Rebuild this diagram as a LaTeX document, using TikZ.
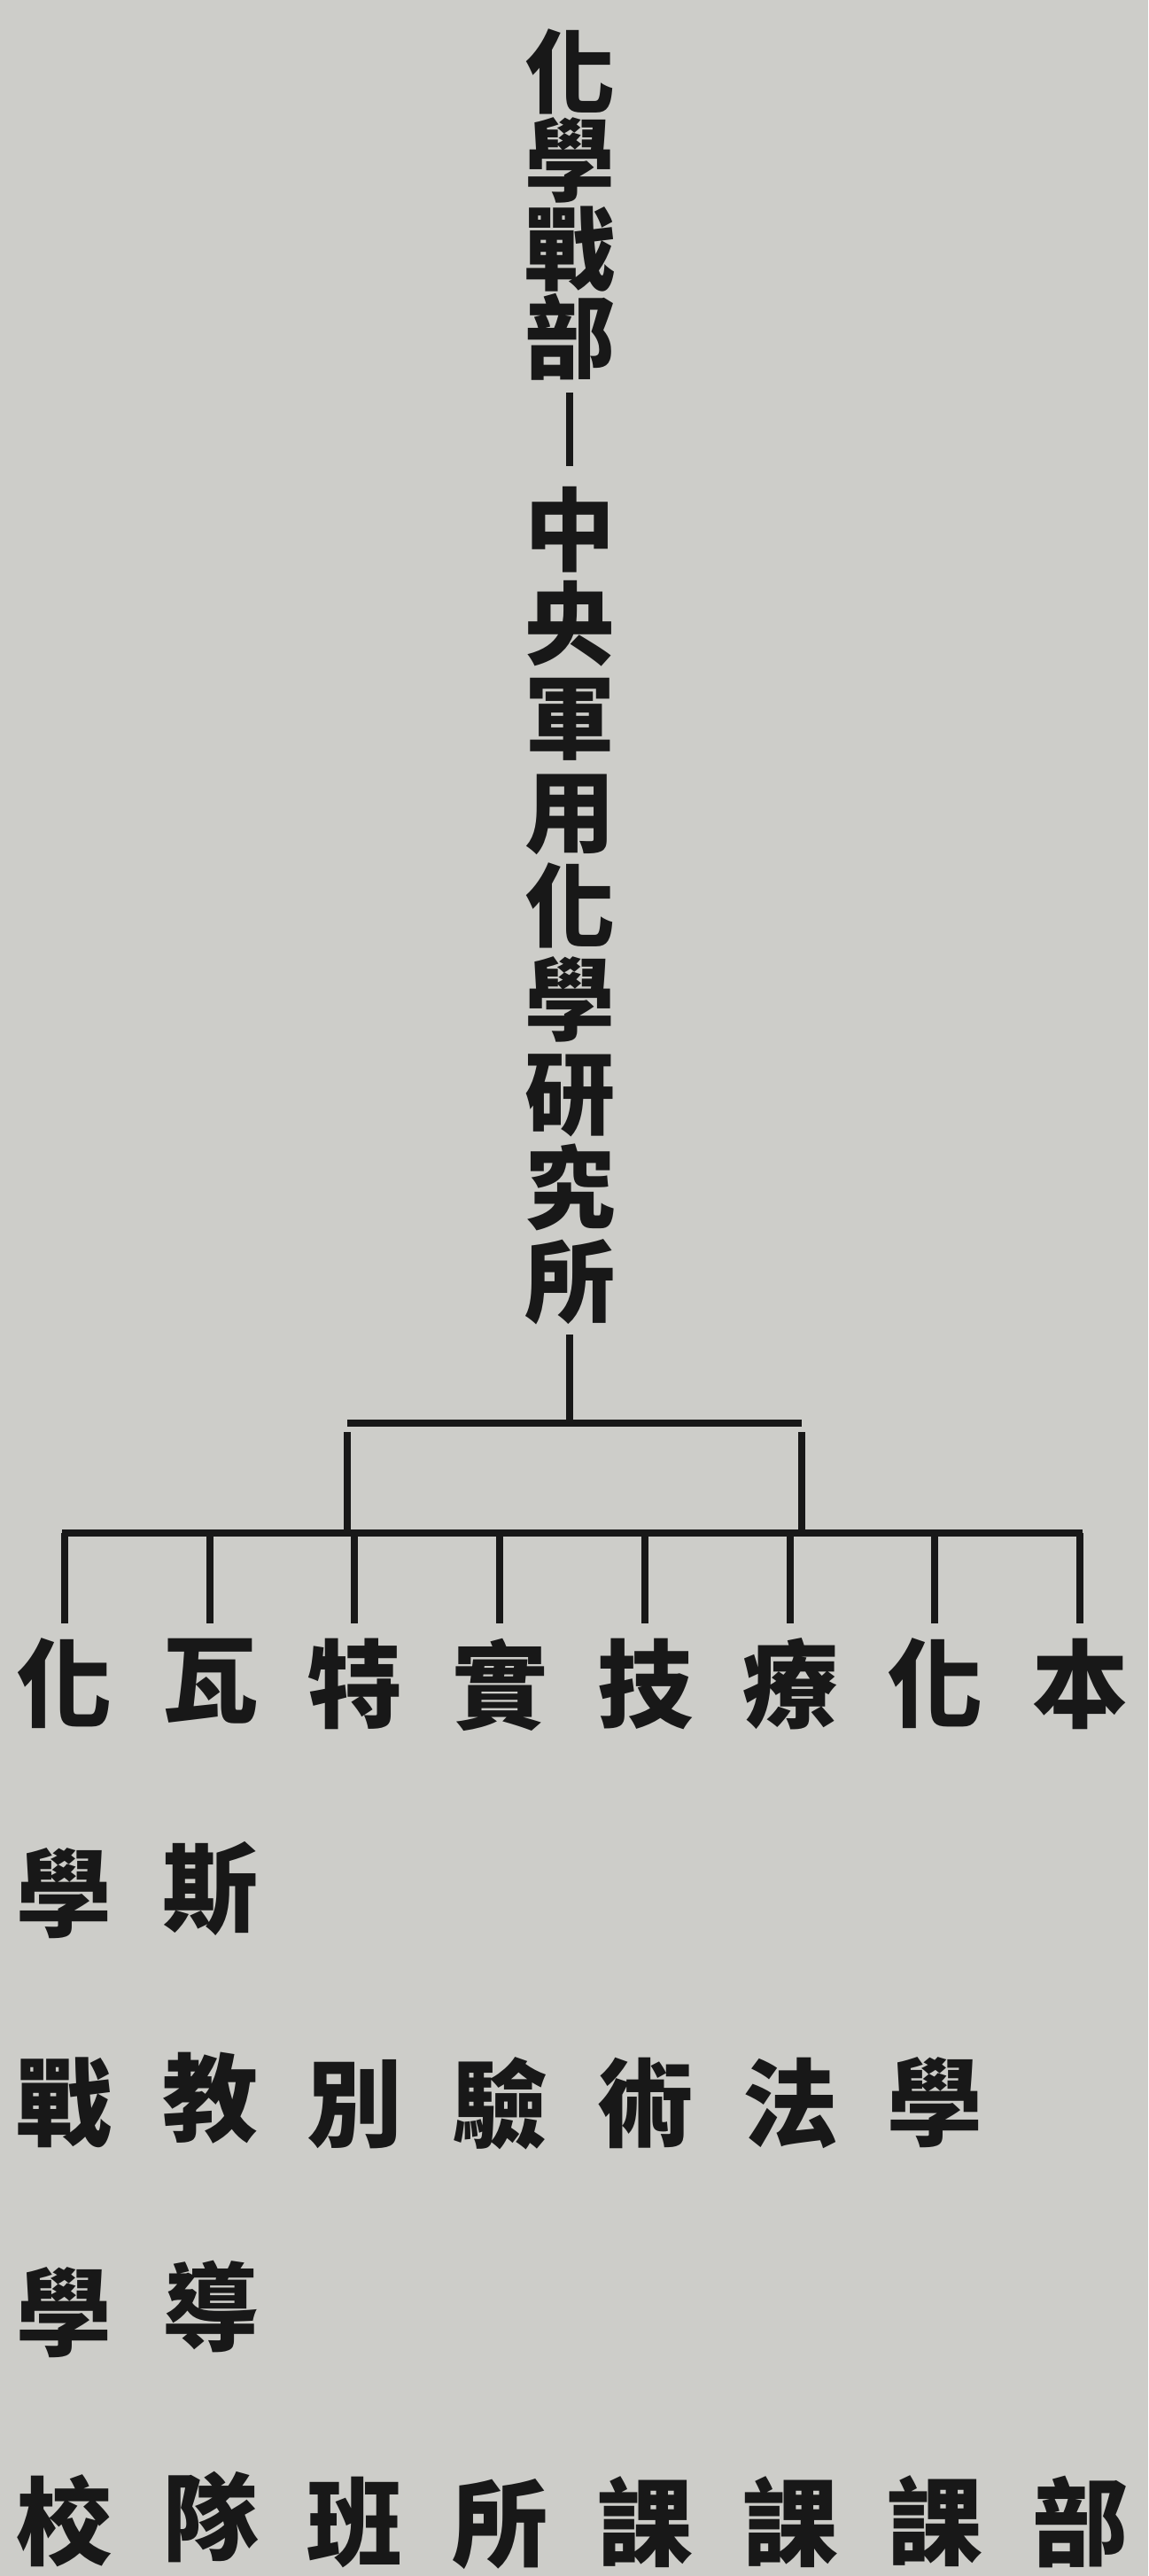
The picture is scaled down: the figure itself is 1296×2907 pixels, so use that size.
\documentclass[tikz,border=0pt]{standalone}
\usepackage{fontspec}
\newfontfamily\cjk{Noto Sans CJK TC}
\definecolor{paper}{RGB}{205,205,201}
\definecolor{ink}{RGB}{24,24,24}

\tikzset{every picture/.style={line width=7.5pt}}

\begin{document}
\begin{tikzpicture}[x=1pt,y=1pt,yscale=-1,xscale=1,
  title/.style={anchor=north,inner sep=0pt,align=center,text=ink,font=\cjk\bfseries\fontsize{102}{100}\selectfont},
  unit/.style={anchor=north,inner sep=0pt,align=center,text=ink,font=\cjk\bfseries\fontsize{108}{236.5}\selectfont},
  link/.style={draw=ink,line cap=butt}]
%set diagram size 1296 x 2907
\fill[paper] (0,0) rectangle (1296,2907);

% Text Node
\node [title] (warchem) at (643,29) {化\\學\\戰\\部};
% Text Node
\node [title,font=\cjk\bfseries\fontsize{102}{106}\selectfont] (institute) at (643,546) {中\\央\\軍\\用\\化\\學\\研\\究\\所};

% Text Node
\node [unit] (school) at (73,1845) {化\\學\\戰\\學\\校};
% Text Node
\node [unit] (gasteam) at (237,1845) {瓦\\斯\\教\\導\\隊};
% Text Node
\node [unit] (special) at (400,1845) {特\\ \\別\\ \\班};
% Text Node
\node [unit] (testlab) at (564,1845) {實\\ \\驗\\ \\所};
% Text Node
\node [unit] (tech) at (728,1845) {技\\ \\術\\ \\課};
% Text Node
\node [unit] (therapy) at (892,1845) {療\\ \\法\\ \\課};
% Text Node
\node [unit] (chemsec) at (1055,1845) {化\\ \\學\\ \\課};
% Text Node
\node [unit] (hq) at (1219,1845) {本\\ \\\\ \\部};

%Bars
\coordinate (hub) at (643,1606);
\coordinate (upL) at (392,1606);
\coordinate (upR) at (905,1606);
\coordinate (lowL) at (70,1730);
\coordinate (lowR) at (1222,1730);

%Straight Lines
\draw [link,shorten <=10pt,shorten >=20pt] (warchem.south) -- (institute.north);
\draw [link,shorten <=7pt] (institute.south) -- (hub);
\draw [link] (upL) -- (upR);
\draw [link,shorten <=10pt,shorten >=4pt] (upL) -- (upL |- lowL);
\draw [link,shorten <=10pt,shorten >=4pt] (upR) -- (upR |- lowL);
\draw [link] (lowL) -- (lowR);
%Straight Lines
\draw [link,shorten >=13pt] (school |- lowL) -- (school.north);
\draw [link,shorten >=13pt] (gasteam |- lowL) -- (gasteam.north);
\draw [link,shorten >=13pt] (special |- lowL) -- (special.north);
\draw [link,shorten >=13pt] (testlab |- lowL) -- (testlab.north);
\draw [link,shorten >=13pt] (tech |- lowL) -- (tech.north);
\draw [link,shorten >=13pt] (therapy |- lowL) -- (therapy.north);
\draw [link,shorten >=13pt] (chemsec |- lowL) -- (chemsec.north);
\draw [link,shorten >=13pt] (hq |- lowL) -- (hq.north);

\end{tikzpicture}
\end{document}
